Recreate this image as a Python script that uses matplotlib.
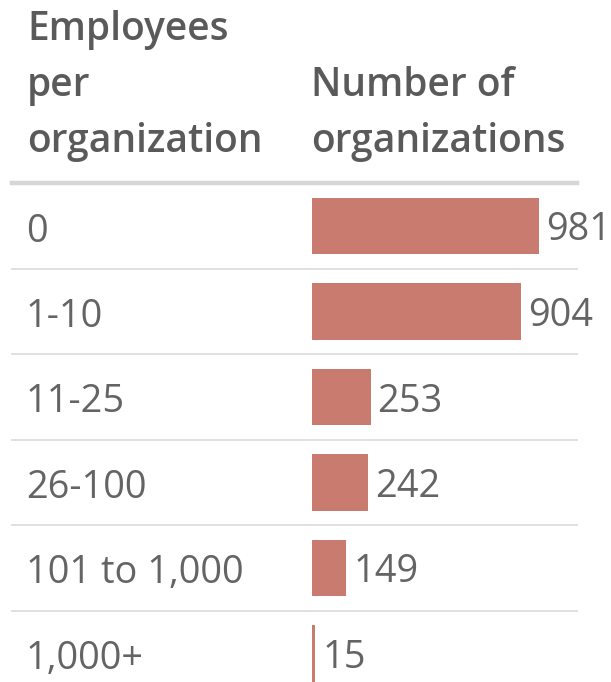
import matplotlib
matplotlib.use("Agg")
import matplotlib.pyplot as plt

categories = ["0", "1-10", "11-25", "26-100", "101 to 1,000", "1,000+"]
values = [981, 904, 253, 242, 149, 15]
header_left = ["Employees", "per", "organization"]
header_right = ["", "Number of", "organizations"]

W, H = 611, 682
DPI = 100
fig = plt.figure(figsize=(W / DPI, H / DPI), dpi=DPI)
fig.patch.set_facecolor("white")

# layout in pixels
bar_x0 = 312.0
px_per_unit = 0.2314
row0_y = 226.0
row_pitch = 85.5
head_baselines = [40, 96, 152]

ax = fig.add_axes([0, 0, 1, 1])
ax.set_xlim(-bar_x0 / px_per_unit, (W - bar_x0) / px_per_unit)
ax.set_ylim((H - row0_y) / row_pitch, -row0_y / row_pitch)
ax.axis("off")

def fx(x):
    return x / W

def fy(y):
    return 1 - y / H

FONT = "Open Sans"
bar_color = "#c87b6e"
head_color = "#5a5a5a"
text_color = "#646464"
fs_head = 28
fs = 27.3

ypos = list(range(len(categories)))
ax.barh(ypos, values, height=0.655, left=0, color=bar_color, zorder=3)

# header text
for b, tl, tr in zip(head_baselines, header_left, header_right):
    fig.text(fx(27), fy(b), tl, ha="left", va="baseline", fontsize=fs_head,
             family=FONT, weight="semibold", color=head_color)
    if tr:
        fig.text(fx(311), fy(b), tr, ha="left", va="baseline", fontsize=fs_head,
                 family=FONT, weight="semibold", color=head_color)

# header rule
fig.add_artist(plt.Line2D([fx(12), fx(577)], [fy(182.5), fy(182.5)],
                          transform=fig.transFigure, color="#d6d6d6", lw=3.2))
# row separators
for i in range(len(categories) - 1):
    y = row0_y + row_pitch * (i + 0.5)
    fig.add_artist(plt.Line2D([fx(12), fx(577)], [fy(y), fy(y)],
                              transform=fig.transFigure, color="#e0e0e0", lw=1.4))

for i, (cat, v) in enumerate(zip(categories, values)):
    base = row0_y + row_pitch * i + 15.5
    fig.text(fx(26), fy(base), cat, ha="left", va="baseline", fontsize=fs,
             family=FONT, color=text_color)
    ax.annotate(f"{v}", xy=(v, i), xytext=(7, 0), textcoords="offset pixels",
                ha="left", va="center_baseline", fontsize=fs, family=FONT,
                color=text_color)

fig.savefig("out.png", dpi=DPI, facecolor="white")
